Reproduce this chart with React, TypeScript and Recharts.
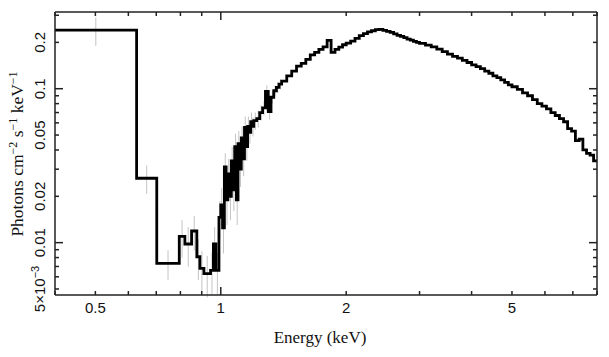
import { ComposedChart, Line, Scatter, ErrorBar, XAxis, YAxis } from "recharts";

// bin edges in keV (one more than the flux values)
const binEdges = [
  0.4, 0.628, 0.702, 0.795, 0.82, 0.851, 0.876, 0.891, 0.911, 0.945, 0.96, 0.973, 0.99, 1.0,
  1.01, 1.02, 1.03, 1.04, 1.05, 1.06, 1.07, 1.08, 1.09, 1.1,
  1.11, 1.12, 1.13, 1.14, 1.15, 1.16, 1.17, 1.18, 1.19, 1.2,
  1.22, 1.24, 1.26, 1.28, 1.3, 1.32, 1.34, 1.36, 1.38, 1.4,
  1.44, 1.48, 1.52, 1.56, 1.6, 1.64, 1.68, 1.72, 1.76, 1.8, 1.84, 1.88, 1.92, 1.96, 2.0,
  2.05, 2.1, 2.15, 2.2, 2.25, 2.3, 2.35, 2.4, 2.45, 2.5,
  2.55, 2.6, 2.65, 2.7, 2.75, 2.8, 2.85, 2.9, 2.95, 3.0,
  3.1, 3.2, 3.3, 3.4, 3.5, 3.6, 3.7, 3.8, 3.9, 4.0,
  4.1, 4.2, 4.3, 4.4, 4.5, 4.6, 4.7, 4.8, 4.9, 5.0,
  5.15, 5.3, 5.45, 5.6, 5.75, 5.9, 6.05, 6.2, 6.35, 6.5,
  6.65, 6.8, 6.95, 7.1, 7.25, 7.4, 7.55, 7.7, 7.85, 8.0,
];

// photons cm^-2 s^-1 keV^-1
const flux = [
  0.24, 0.0262, 0.00734, 0.011, 0.0098, 0.0119, 0.0081, 0.0068, 0.0063, 0.0066, 0.0098, 0.0066, 0.0146,
  0.0176, 0.0125, 0.031, 0.019, 0.028, 0.02, 0.034, 0.022, 0.042, 0.019,
  0.044, 0.03, 0.048, 0.035, 0.056, 0.042, 0.057, 0.052, 0.061, 0.057,
  0.062, 0.064, 0.07, 0.075, 0.096, 0.071, 0.088, 0.097, 0.102, 0.107,
  0.112, 0.121, 0.13, 0.14, 0.146, 0.155, 0.166, 0.172, 0.18, 0.187, 0.206, 0.172, 0.18, 0.186, 0.193,
  0.198, 0.204, 0.212, 0.221, 0.228, 0.234, 0.238, 0.242, 0.243, 0.239,
  0.236, 0.232, 0.227, 0.222, 0.219, 0.215, 0.21, 0.207, 0.203, 0.2,
  0.197, 0.192, 0.187, 0.181, 0.174, 0.168, 0.162, 0.158, 0.153, 0.148,
  0.143, 0.139, 0.135, 0.13, 0.126, 0.121, 0.118, 0.114, 0.11, 0.106,
  0.103, 0.099, 0.094, 0.09, 0.085, 0.08, 0.077, 0.074, 0.07, 0.067,
  0.064, 0.061, 0.055, 0.053, 0.046, 0.047, 0.04, 0.038, 0.037, 0.034,
];

// 1-sigma errors for the low-energy bins (above 1.4 keV they hide under the line)
const fluxErr = [
  0.05, 0.0055, 0.0016, 0.003, 0.0028, 0.003, 0.0024, 0.002, 0.0019, 0.002, 0.0028, 0.002, 0.004,
  0.005, 0.004, 0.007, 0.006, 0.007, 0.006, 0.008, 0.006, 0.009, 0.006,
  0.009, 0.007, 0.009, 0.008, 0.01, 0.008, 0.009, 0.008, 0.009, 0.008,
  0.008, 0.008, 0.008, 0.008, 0.009, 0.008, 0.008, 0.008, 0.008, 0.008,
];

const xTicks = [0.4, 0.5, 0.6, 0.7, 0.8, 0.9, 1, 2, 3, 4, 5, 6, 7, 8];
const xTickLabels: Record<string, string> = { "0.5": "0.5", "1": "1", "2": "2", "5": "5" };
const yTicks = [
  0.005, 0.006, 0.007, 0.008, 0.009, 0.01, 0.02, 0.03, 0.04, 0.05, 0.06, 0.07, 0.08, 0.09, 0.1, 0.2, 0.3,
];
const yTickLabels: Record<string, string> = {
  "0.01": "0.01", "0.02": "0.02", "0.05": "0.05", "0.1": "0.1", "0.2": "0.2",
};

const stepData = flux
  .map((f, i) => ({ E: binEdges[i], F: f }))
  .concat([{ E: binEdges[flux.length], F: flux[flux.length - 1] }]);

const errData = fluxErr.map((e, i) => ({
  E: Math.sqrt(binEdges[i] * binEdges[i + 1]),
  F: flux[i],
  err: e,
}));

const AXIS = "#222";
const SANS = "Liberation Sans, Arial, sans-serif";
const SERIF = "Liberation Serif, Times New Roman, serif";

const XTick = (props: any) => {
  const { x, y, payload, top } = props;
  const v = payload.value;
  const len = v === 1 ? 8 : 4;
  const d = top ? 1 : -1;
  const label = top ? undefined : xTickLabels[String(v)];
  return (
    <g>
      <line x1={x} x2={x} y1={y} y2={y + d * len} stroke={AXIS} strokeWidth={1.5} />
      {label && (
        <text x={x} y={y + 18} textAnchor="middle" fontFamily={SANS} fontSize={15} fill="#111">
          {label}
        </text>
      )}
    </g>
  );
};

const YTick = (props: any) => {
  const { x, y, payload, right } = props;
  const v = payload.value;
  const len = v === 0.01 || v === 0.1 ? 8 : 4;
  const d = right ? -1 : 1;
  const tx = x - 10;
  let label: any = null;
  if (!right) {
    if (v === 0.005) {
      label = (
        <text x={tx} y={y} transform={`rotate(-90 ${tx} ${y})`} textAnchor="middle" fontFamily={SANS} fontSize={15} fill="#111">
          5×10<tspan dy={-6} fontSize={11}>−3</tspan>
        </text>
      );
    } else if (yTickLabels[String(v)]) {
      label = (
        <text x={tx} y={y} transform={`rotate(-90 ${tx} ${y})`} textAnchor="middle" fontFamily={SANS} fontSize={15} fill="#111">
          {yTickLabels[String(v)]}
        </text>
      );
    }
  }
  return (
    <g>
      <line x1={x} x2={x + d * len} y1={y} y2={y} stroke={AXIS} strokeWidth={1.5} />
      {label}
    </g>
  );
};

const XTitle = () => (
  <text x={320} y={343} textAnchor="middle" fontFamily={SERIF} fontSize={17} fill="#111">
    Energy (keV)
  </text>
);

const YTitle = () => (
  <text x={23} y={154} transform="rotate(-90 23 154)" textAnchor="middle" fontFamily={SERIF} fontSize={17.5} fill="#111">
    Photons cm<tspan dy={-6} fontSize={12}>−2</tspan>
    <tspan dy={6}> s</tspan>
    <tspan dy={-6} fontSize={12}>−1</tspan>
    <tspan dy={6}> keV</tspan>
    <tspan dy={-6} fontSize={12}>−1</tspan>
  </text>
);

export default function App() {
  const axisLine = { stroke: AXIS, strokeWidth: 1.5 };
  return (
    <div style={{ position: "absolute", left: 0, top: 0, width: 609, height: 357, background: "#fff" }}>
      <ComposedChart width={609} height={357} margin={{ top: 0, right: 0, bottom: 0, left: 0 }}>
        <XAxis
          dataKey="E"
          type="number"
          scale="log"
          domain={[0.4, 8]}
          allowDataOverflow
          ticks={xTicks}
          interval={0}
          tickLine={false}
          tickSize={0}
          tickMargin={0}
          height={62}
          axisLine={axisLine}
          tick={(p: any) => <XTick {...p} />}
          label={{ content: () => <XTitle /> }}
        />
        <XAxis
          xAxisId="top"
          orientation="top"
          dataKey="E"
          type="number"
          scale="log"
          domain={[0.4, 8]}
          allowDataOverflow
          ticks={xTicks}
          interval={0}
          tickLine={false}
          tickSize={0}
          tickMargin={0}
          height={12}
          axisLine={axisLine}
          tick={(p: any) => <XTick {...p} top />}
        />
        <YAxis
          type="number"
          scale="log"
          domain={[0.00457, 0.315]}
          allowDataOverflow
          ticks={yTicks}
          interval={0}
          tickLine={false}
          tickSize={0}
          tickMargin={0}
          width={55}
          axisLine={axisLine}
          tick={(p: any) => <YTick {...p} />}
          label={{ content: () => <YTitle /> }}
        />
        <YAxis
          yAxisId="right"
          orientation="right"
          type="number"
          scale="log"
          domain={[0.00457, 0.315]}
          allowDataOverflow
          ticks={yTicks}
          interval={0}
          tickLine={false}
          tickSize={0}
          tickMargin={0}
          width={12}
          axisLine={axisLine}
          tick={(p: any) => <YTick {...p} right />}
        />
        <Scatter data={errData} dataKey="F" shape={() => <g />} isAnimationActive={false}>
          <ErrorBar dataKey="err" direction="y" width={0} stroke="#c4c4c4" strokeWidth={1} isAnimationActive={false} />
        </Scatter>
        <Line
          data={stepData}
          dataKey="F"
          type="stepAfter"
          stroke="#000"
          strokeWidth={2.8}
          dot={false}
          activeDot={false}
          isAnimationActive={false}
        />
      </ComposedChart>
    </div>
  );
}
